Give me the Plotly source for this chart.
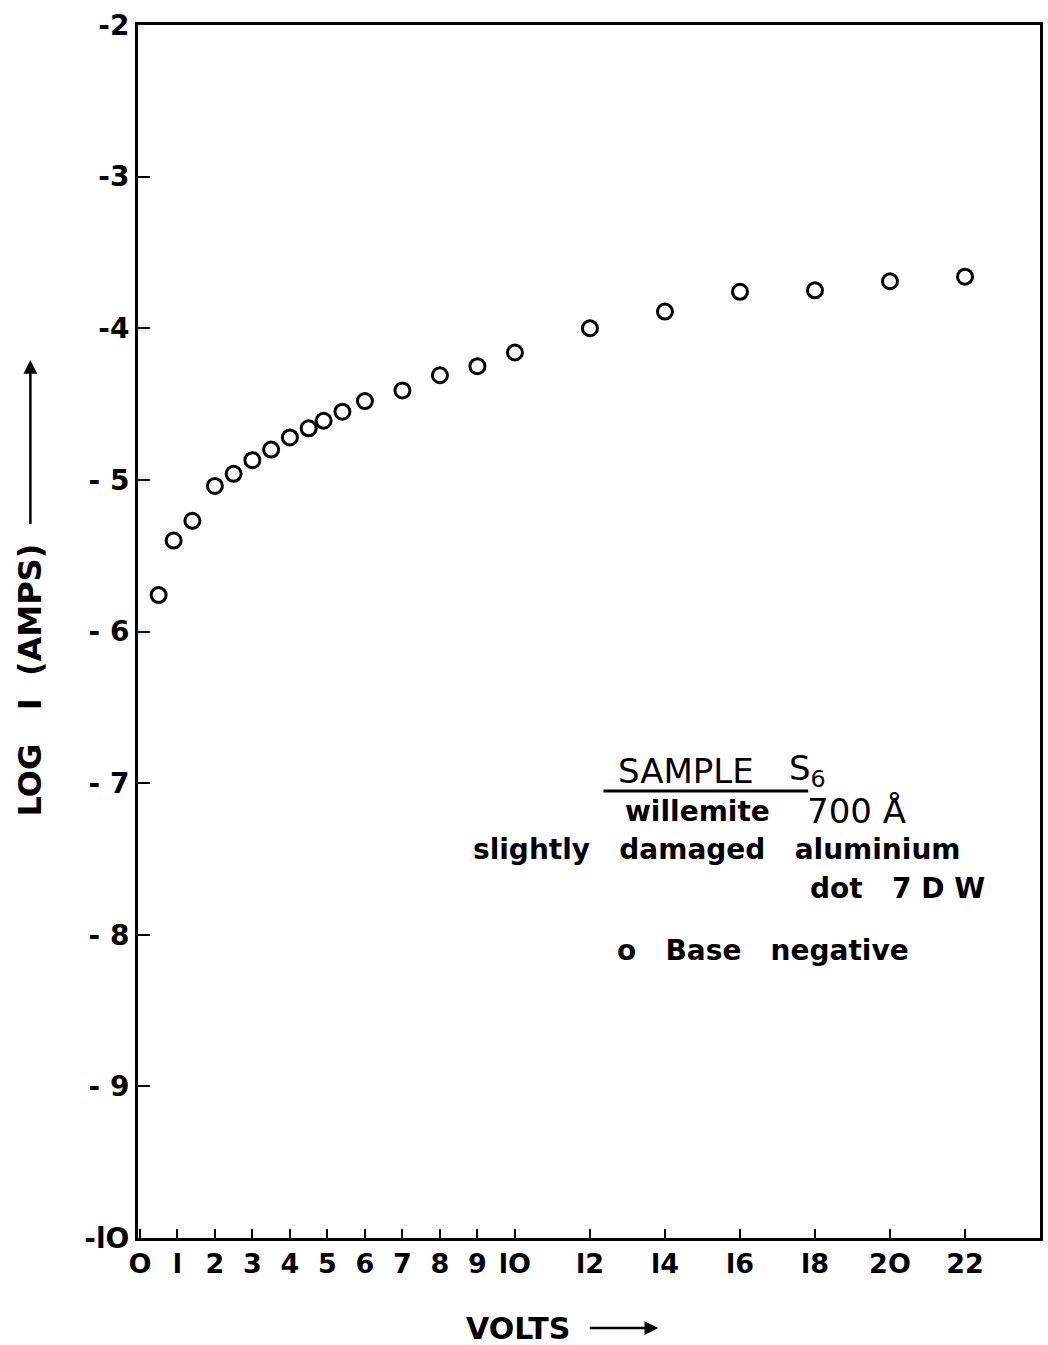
import plotly.graph_objects as go

# Measured current vs applied voltage (base negative)
volts = [0.5, 0.9, 1.4, 2, 2.5, 3, 3.5, 4, 4.5, 4.9, 5.4, 6, 7, 8, 9, 10,
         12, 14, 16, 18, 20, 22]
log_i = [-5.76, -5.40, -5.27, -5.04, -4.96, -4.87, -4.80, -4.72, -4.66, -4.61,
         -4.55, -4.48, -4.41, -4.31, -4.25, -4.16,
         -4.00, -3.89, -3.76, -3.75, -3.69, -3.66]

x_ticks = [0, 1, 2, 3, 4, 5, 6, 7, 8, 9, 10, 12, 14, 16, 18, 20, 22]
x_tick_labels = ["O", "l", "2", "3", "4", "5", "6", "7", "8", "9", "lO",
                 "l2", "l4", "l6", "l8", "2O", "22"]
y_ticks = [-2, -3, -4, -5, -6, -7, -8, -9, -10]
y_tick_labels = ["-2", "-3", "-4", "- 5", "- 6", "- 7", "- 8", "- 9", "-lO"]

FONT = "DejaVu Sans"

fig = go.Figure()
fig.add_trace(go.Scatter(
    x=volts, y=log_i, mode="markers",
    marker=dict(symbol="circle-open", size=15, color="black",
                line=dict(width=3, color="black")),
    showlegend=False,
))

fig.update_layout(
    width=1048, height=1345,
    margin=dict(l=138, r=5, t=25, b=107),
    paper_bgcolor="white", plot_bgcolor="white",
    font=dict(family=FONT, color="black"),
    xaxis=dict(
        range=[-0.05, 24.0],
        tickvals=x_ticks, ticktext=[f"<b>{t}</b>" for t in x_tick_labels],
        ticks="inside", ticklen=9, tickwidth=2, tickcolor="black",
        showline=True, linewidth=3, linecolor="black", mirror=True,
        showgrid=False, zeroline=False,
        tickfont=dict(size=27, family=FONT),
    ),
    yaxis=dict(
        range=[-10, -2],
        tickvals=y_ticks, ticktext=[f"<b>{t}</b>" for t in y_tick_labels],
        ticks="inside", ticklen=12, tickwidth=2, tickcolor="black",
        showline=True, linewidth=3, linecolor="black", mirror=True,
        showgrid=False, zeroline=False,
        tickfont=dict(size=28, family=FONT),
    ),
)


def note(text, x, y, size=28, **kw):
    return dict(text=text, x=x, y=y, xref="paper", yref="paper",
                showarrow=False, font=dict(size=size),
                xanchor="left", yanchor="middle", **kw)


arrow_style = dict(showarrow=True, arrowhead=2, arrowsize=1.1,
                   arrowwidth=2.5, arrowcolor="black", standoff=0,
                   startstandoff=18)

annotations = [
    # axis titles, each with an arrow pointing along its axis
    dict(text="<b>VOLTS</b>", x=0.5768, y=-0.0742, xref="paper", yref="paper",
         ax=-140, ay=0, font=dict(size=30), **arrow_style),
    dict(text="<b>LOG   I  (AMPS)</b>", x=-0.1193, y=0.7238, xref="paper",
         yref="paper", ax=0, ay=320, textangle=-90, font=dict(size=32),
         **arrow_style),
    # sample description block
    note("SAMPLE", 0.530, 0.385, size=34),
    note("S<sub>6</sub>", 0.719, 0.385, size=34),
    note("<b>willemite</b>", 0.538, 0.352),
    note("700 Å", 0.740, 0.352, size=34),
    note("<b>slightly   damaged   aluminium</b>", 0.369, 0.320),
    note("<b>dot   7 D W</b>", 0.743, 0.2885),
    note("<b>o   Base   negative</b>", 0.529, 0.237),
]
fig.update_layout(annotations=annotations)

# Underline beneath the sample heading
fig.add_shape(type="line", xref="paper", yref="paper",
              x0=0.516, x1=0.743, y0=0.3685, y1=0.3685,
              line=dict(color="black", width=3))

fig.write_html("out.html")
